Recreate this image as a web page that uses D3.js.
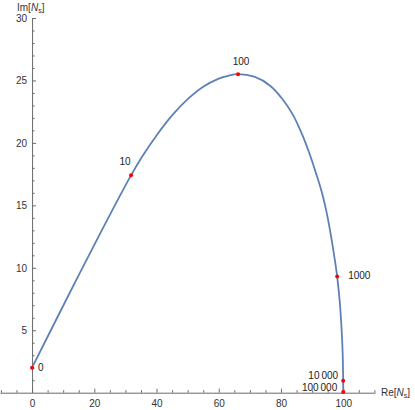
<!DOCTYPE html>
<html>
<head>
<meta charset="utf-8">
<script src="https://cdn.jsdelivr.net/npm/d3@7"></script>
<style>
  body { margin: 0; background: #fff; }
  svg { display: block; font-family: 'Liberation Sans', Arial, sans-serif; }
  .axis path, .axis line { stroke: #6b6b6b; }
  .axis text { fill: #333; font-size: 10px; }
</style>
</head>
<body>
<svg id="chart" width="415" height="410"></svg>
<script>
'use strict';

// curve samples (Re, Im)
const curveRe = [0, 11.1, 22.4, 31.8, 35.5, 40, 45, 50, 55, 60, 63, 66.2, 71.6, 76.4, 80.5, 83.7, 86.4, 89.0, 91.2, 93.05, 94.6, 96.1, 97.3, 98.05, 98.9, 99.47, 99.83, 99.97, 100];
const curveIm = [2.0, 7.5, 13.0, 17.4, 18.95, 20.6, 22.2, 23.5, 24.5, 25.15, 25.375, 25.5, 25.28, 24.6, 23.5, 22.3, 20.9, 19.25, 17.6, 16.1, 14.5, 12.5, 10.62, 9.3, 7.2, 5.06, 3.0, 0.96, 0.05];

// marked parameter values
const markLabels = ['0', '10', '100', '1000', '10\u2009000', '100\u2009000'];
const markRe = [0, 31.8, 66.2, 98.05, 99.97, 100];
const markIm = [2.0, 17.4, 25.5, 9.3, 0.96, 0.05];

const xMajor = [0, 20, 40, 60, 80, 100];
const yMajor = [5, 10, 15, 20, 25, 30];

// label placement (px offset from the point, anchor)
const markPlace = [
    {dx: 6, dy: 0, anchor: 'start'},
    {dx: -6, dy: -13.5, anchor: 'middle'},
    {dx: 3, dy: -12.5, anchor: 'middle'},
    {dx: 11, dy: -1.5, anchor: 'start'},
    {dx: -5, dy: -5.5, anchor: 'end'},
    {dx: -6, dy: -4.5, anchor: 'end'}
];

const svg = d3.select('#chart');

const x = d3.scaleLinear().domain([-10.3, 110.2]).range([0, 375]);
const y = d3.scaleLinear().domain([0, 30]).range([392.7, 18]);

const xMinor = d3.range(-10, 111, 5).filter(v => xMajor.indexOf(v) === -1);
const yMinor = d3.range(1, 30, 1).filter(v => yMajor.indexOf(v) === -1);

// x axis
svg.append('g')
    .attr('class', 'axis')
    .attr('transform', 'translate(0,' + y(0) + ')')
    .call(d3.axisBottom(x).tickValues(xMinor).tickFormat('').tickSizeInner(-2.5).tickSizeOuter(0));
svg.append('g')
    .attr('class', 'axis')
    .attr('transform', 'translate(0,' + y(0) + ')')
    .call(d3.axisBottom(x).tickValues(xMajor).tickSizeInner(-4).tickSizeOuter(0).tickPadding(7))
    .select('.domain').remove();

// y axis
svg.append('g')
    .attr('class', 'axis')
    .attr('transform', 'translate(' + x(0) + ',0)')
    .call(d3.axisLeft(y).tickValues(yMinor).tickFormat('').tickSizeInner(-2.5).tickSizeOuter(0));
svg.append('g')
    .attr('class', 'axis')
    .attr('transform', 'translate(' + x(0) + ',0)')
    .call(d3.axisLeft(y).tickValues(yMajor).tickSizeInner(-4).tickSizeOuter(0).tickPadding(5))
    .select('.domain').remove();

// axis labels
function axisLabel(px, py, pre) {
    const t = svg.append('text')
        .attr('x', px).attr('y', py)
        .attr('dy', '0.35em')
        .attr('font-size', 10)
        .attr('fill', '#333');
    t.append('tspan').text(pre + '[');
    t.append('tspan').attr('font-style', 'italic').text('N');
    t.append('tspan').attr('font-size', 7).attr('dy', 2).text('s');
    t.append('tspan').attr('dy', -2).text(']');
}
axisLabel(381, y(0), 'Re');
axisLabel(17, 7, 'Im');

// curve
const pts = curveRe.map((d, i) => [d, curveIm[i]]);
svg.append('path')
    .datum(pts)
    .attr('fill', 'none')
    .attr('stroke', '#5E81B5')
    .attr('stroke-width', 1.8)
    .attr('d', d3.line().x(d => x(d[0])).y(d => y(d[1])).curve(d3.curveCatmullRom.alpha(0.5)));

// marked points
svg.selectAll('.mark')
    .data(markRe)
    .enter()
    .append('circle')
    .attr('class', 'mark')
    .attr('cx', d => x(d))
    .attr('cy', (d, i) => y(markIm[i]))
    .attr('r', 2)
    .attr('fill', '#ff0000');

svg.selectAll('.mark-label')
    .data(markLabels)
    .enter()
    .append('text')
    .attr('class', 'mark-label')
    .attr('x', (d, i) => x(markRe[i]) + markPlace[i].dx)
    .attr('y', (d, i) => y(markIm[i]) + markPlace[i].dy)
    .attr('dy', '0.35em')
    .attr('text-anchor', (d, i) => markPlace[i].anchor)
    .attr('font-size', 10)
    .attr('fill', '#222')
    .text(d => d);
</script>
</body>
</html>
